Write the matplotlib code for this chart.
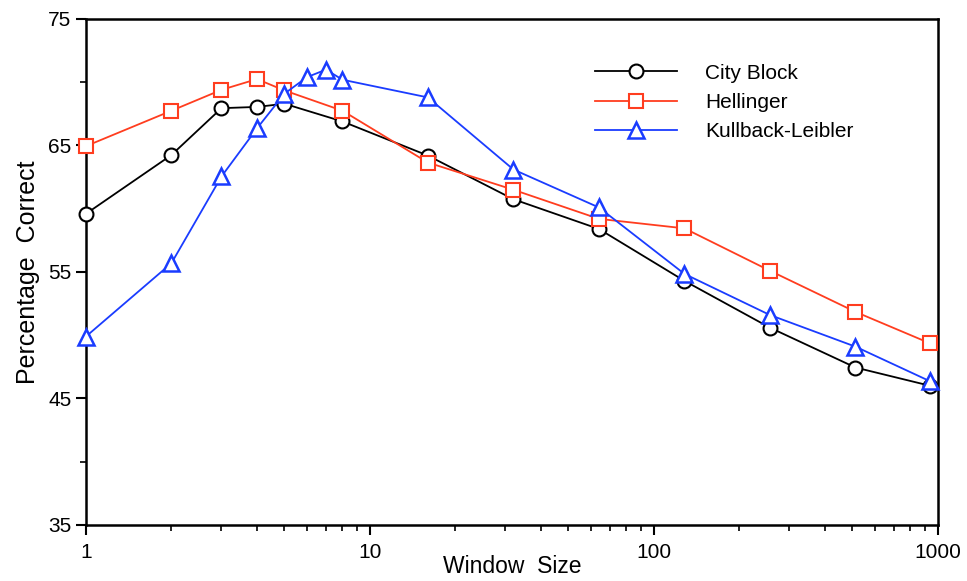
import matplotlib.pyplot as plt
from matplotlib.ticker import FixedLocator, NullFormatter

plt.rcParams['font.family'] = ['Liberation Sans', 'DejaVu Sans']

# window sizes
x_cb = [1, 2, 3, 4, 5, 8, 16, 32, 64, 128, 256, 512, 940]
x_hel = [1, 2, 3, 4, 5, 8, 16, 32, 64, 128, 256, 512, 940]
x_kl = [1, 2, 3, 4, 5, 6, 7, 8, 16, 32, 64, 128, 256, 512, 940]

# percentage correct
city_block = [59.6, 64.25, 67.95, 68.05, 68.3, 66.9, 64.2, 60.75, 58.4, 54.3, 50.6, 47.45, 46.0]
hellinger = [64.95, 67.75, 69.4, 70.25, 69.35, 67.75, 63.65, 61.5, 59.2, 58.45, 55.1, 51.85, 49.35]
kullback = [49.9, 55.7, 62.55, 66.35, 69.1, 70.4, 71.0, 70.2, 68.8, 63.1, 60.1, 54.85, 51.6, 49.1, 46.35]

fig = plt.figure(figsize=(9.67, 5.81), dpi=100)
ax = fig.add_axes([0.0889, 0.0964, 0.8811, 0.8709])

ax.plot(x_cb, city_block, color='black', lw=1.3, marker='o', ms=10,
        mfc='white', mec='black', mew=1.5, label='City Block', clip_on=False, zorder=3)
ax.plot(x_hel, hellinger, color='#ff3d1f', lw=1.3, marker='s', ms=10,
        mfc='white', mec='#ff3d1f', mew=1.5, label='Hellinger', clip_on=False, zorder=3)
ax.plot(x_kl, kullback, color='#1a3cff', lw=1.3, marker='^', ms=11,
        mfc='white', mec='#1a3cff', mew=1.8, label='Kullback-Leibler', clip_on=False, zorder=3)

ax.set_xscale('log')
ax.set_xlim(1, 1000)
ax.set_ylim(35, 75)
ax.set_xticks([1, 10, 100, 1000])
ax.set_xticklabels(['1', '10', '100', '1000'])
ax.xaxis.set_minor_formatter(NullFormatter())
ax.set_yticks([35, 45, 55, 65, 75])
ax.yaxis.set_minor_locator(FixedLocator([40, 70]))

for s in ax.spines.values():
    s.set_linewidth(1.8)
ax.tick_params(which='major', direction='out', length=7, width=1.5, labelsize=15)
ax.tick_params(which='minor', direction='out', length=4, width=1.2)
ax.tick_params(axis='x', pad=6)

ax.set_xlabel('Window  Size', fontsize=16.5, labelpad=-5)
ax.set_ylabel('Percentage  Correct', fontsize=18, labelpad=6)

ax.legend(loc='upper left', bbox_to_anchor=(0.598, 0.912), frameon=False,
          fontsize=15, handlelength=3.9, handletextpad=1.35, labelspacing=0.5,
          borderpad=0, borderaxespad=0)

fig.savefig('out.png', dpi=100)
